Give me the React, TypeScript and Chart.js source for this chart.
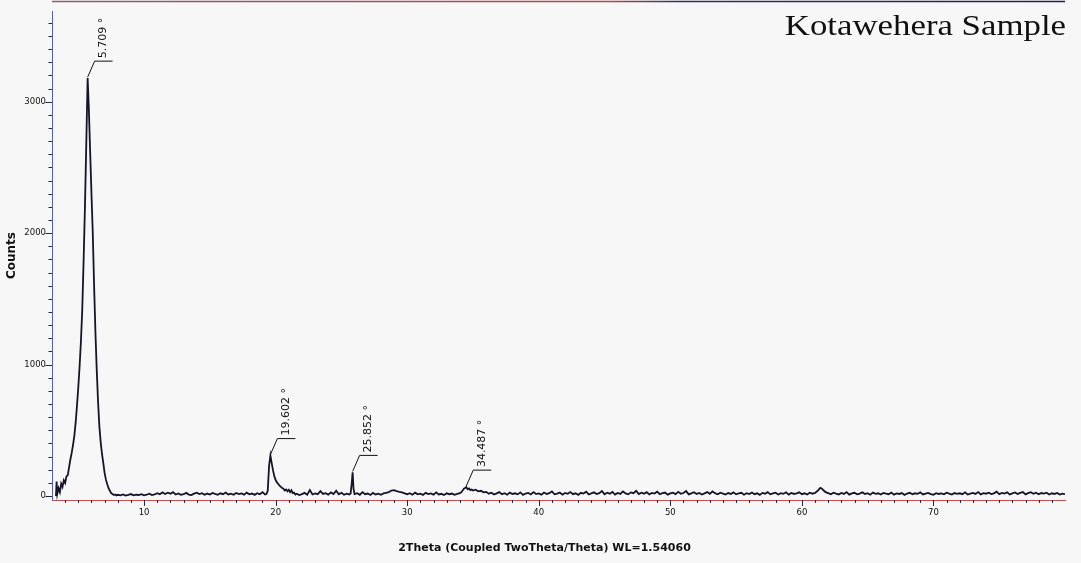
import React, { useEffect, useRef } from "react";
import { Chart, registerables } from "chart.js";

Chart.register(...registerables);

// Axis ranges (2θ in degrees, intensity in counts)
const X_MIN = 3;
const X_MAX = 80;
const Y_MIN = -30;
const Y_MAX = 3690;

const xTickValues = [10, 20, 30, 40, 50, 60, 70];
const yTickValues = [0, 1000, 2000, 3000];

const chartTitle = "Kotawehera Sample";
const xAxisTitle = "2Theta (Coupled TwoTheta/Theta) WL=1.54060";
const yAxisTitle = "Counts";

// Background sections are recorded on a 0.2° grid
const BG_STEP = 0.2;

// Strong low-angle reflection
const peak1Theta = [
  3.3, 3.35, 3.4, 3.5, 3.6, 3.7, 3.8, 3.9, 4.0, 4.1, 4.2, 4.3, 4.4, 4.5, 4.6, 4.7,
  4.8, 4.9, 5.0, 5.1, 5.2, 5.3, 5.4, 5.5, 5.6, 5.709, 5.8, 5.9, 6.0, 6.1, 6.2, 6.3,
  6.4, 6.5, 6.6, 6.7, 6.8, 6.9, 7.0, 7.1, 7.2, 7.3, 7.4, 7.5, 7.6, 7.7, 7.8, 7.9,
];
const peak1Counts = [
  0, 110, 15, 60, 30, 95, 70, 120, 100, 150, 160, 220, 280, 330, 390, 460,
  560, 690, 830, 990, 1180, 1420, 1780, 2180, 2650, 3180, 2950, 2620, 2300, 2000, 1600, 1250,
  960, 720, 530, 410, 320, 250, 175, 125, 90, 60, 40, 22, 15, 8, 12, 5,
];

const bg1Start = 8.0;
const bg1Counts = [
  10, 6, 12, 4, 9, 15, 5, 11, 8, 14,
  6, 10, 18, 7, 12, 22, 14, 28, 16, 25,
  18, 30, 12, 20, 9, 14, 24, 11, 8, 18,
  26, 15, 22, 10, 19, 12, 24, 16, 9, 21,
  14, 27, 12, 18, 10, 23, 15, 20, 11, 26,
  13, 19, 9, 22, 14, 30, 12,
];

const peak2Theta = [
  19.3, 19.4, 19.5, 19.602, 19.7, 19.8, 19.9, 20.0, 20.1, 20.2, 20.3, 20.4,
  20.5, 20.6, 20.7, 20.8, 20.9, 21.0, 21.1, 21.2, 21.3, 21.4, 21.5,
];
const peak2Counts = [
  15, 40, 230, 308, 250, 195, 150, 122, 104, 92, 80, 70,
  62, 55, 42, 50, 36, 48, 30, 44, 22, 26, 12,
];

const bg2Start = 21.6;
const bg2Counts = [
  18, 8, 15, 24, 10, 45, 12, 20, 14, 38, 16, 22, 11, 28, 15, 40, 13, 25, 10, 18, 12,
];

const peak3Theta = [25.7, 25.78, 25.852, 25.92, 26.0];
const peak3Counts = [20, 95, 180, 55, 15];

const bg3Start = 26.2;
const bg3Counts = [
  22, 10, 30, 14, 19, 8, 24, 12, 18, 10, 20, 25,
  30, 42, 45, 38, 32, 28, 20,
];

const bg4Start = 30.0;
const bg4Counts = [
  14, 22, 10, 26, 13, 18, 9, 24, 15, 20, 11, 28, 12, 17, 8, 21, 14, 19, 10, 16, 22,
];

const peak4Theta = [34.1, 34.2, 34.3, 34.4, 34.487, 34.6, 34.7, 34.8, 34.9, 35.0, 35.2, 35.4, 35.6, 35.8, 36.0];
const peak4Counts = [28, 40, 55, 62, 68, 52, 58, 45, 50, 42, 48, 36, 40, 28, 32];

const bg5Start = 36.2;
const bg5Counts = [
  18, 25, 12, 20, 30, 14, 22, 10, 26, 16,
  21, 13, 28, 9, 19, 24, 12, 30, 15, 20,
  11, 27, 16, 22, 35, 13, 18, 26, 10, 24,
  17, 30, 14, 21, 9, 25, 19, 33, 12, 20,
  28, 15, 22, 38, 14, 26, 18, 31, 11, 24,
  16, 35, 20, 13, 28, 22, 40, 15, 25, 18,
  30, 12, 24, 19, 34, 14, 22, 27, 11, 20,
  26, 15, 32, 18, 23, 38, 13, 21, 29, 16,
  24, 12, 20, 30, 17, 35, 22, 14, 26, 19,
  11, 23, 16, 28, 13, 20, 25, 10, 22, 15,
  27, 14, 21, 9, 24, 18, 30, 13, 20, 26,
  12, 22, 17, 29, 11, 24, 16, 20, 28, 14,
  21, 12, 25, 18, 24,
];

const peak5Theta = [61.2, 61.4, 61.5, 61.6, 61.8];
const peak5Counts = [40, 62, 58, 48, 30];

const bg6Start = 62.0;
const bg6Counts = [
  22, 14, 26, 18, 12, 24, 16, 30, 11, 20,
  25, 13, 19, 28, 15, 22, 10, 26, 17, 21,
  12, 24, 18, 14, 27, 11, 20, 16, 23, 9,
  19, 25, 13, 21, 17, 28, 12, 18, 24, 15,
  10, 22, 16, 20, 13, 26, 18, 11, 23, 17,
  21, 14, 28, 12, 19, 24, 16, 30, 13, 22,
  18, 26, 15, 21, 33, 14, 24, 19, 28, 12,
  20, 27, 16, 24, 30, 13, 22, 29, 17, 25,
  14, 23, 19, 26, 12, 21, 16, 24, 11, 18,
  15,
];

// Labelled reflections (2θ positions)
const peakLabelTheta = [5.709, 19.602, 25.852, 34.487];

type Pt = { x: number; y: number };

function pairs(theta: number[], counts: number[]): Pt[] {
  return theta.map((t, i) => ({ x: t, y: counts[i] }));
}

function grid(start: number, counts: number[]): Pt[] {
  return counts.map((c, i) => ({ x: Math.round((start + i * BG_STEP) * 1000) / 1000, y: c }));
}

function buildScan(): Pt[] {
  const pts = [
    ...pairs(peak1Theta, peak1Counts),
    ...grid(bg1Start, bg1Counts),
    ...pairs(peak2Theta, peak2Counts),
    ...grid(bg2Start, bg2Counts),
    ...pairs(peak3Theta, peak3Counts),
    ...grid(bg3Start, bg3Counts),
    ...grid(bg4Start, bg4Counts),
    ...pairs(peak4Theta, peak4Counts),
    ...grid(bg5Start, bg5Counts),
    ...pairs(peak5Theta, peak5Counts),
    ...grid(bg6Start, bg6Counts),
  ];
  return pts.sort((a, b) => a.x - b.x);
}

const SANS = '"DejaVu Sans", Verdana, sans-serif';

const decorPlugin = {
  id: "xrdDecor",
  afterDraw(chart: any) {
    const { ctx, chartArea, scales } = chart;
    const xs = scales.x;
    const ys = scales.y;
    const data: Pt[] = chart.data.datasets[0].data;
    ctx.save();

    // upper frame line
    const grad = ctx.createLinearGradient(chartArea.left, 0, chartArea.right, 0);
    grad.addColorStop(0, "#8a5a70");
    grad.addColorStop(0.55, "#b04848");
    grad.addColorStop(0.62, "#303060");
    grad.addColorStop(1, "#202050");
    ctx.strokeStyle = grad;
    ctx.lineWidth = 1.5;
    ctx.beginPath();
    ctx.moveTo(chartArea.left, 1.5);
    ctx.lineTo(chartArea.right, 1.5);
    ctx.stroke();

    // x tick marks: every degree, longer every ten
    ctx.strokeStyle = "#26264a";
    ctx.lineWidth = 1;
    for (let t = Math.ceil(X_MIN + 1); t < X_MAX; t++) {
      const px = Math.round(xs.getPixelForValue(t)) + 0.5;
      const len = t % 10 === 0 ? 6 : 3;
      ctx.beginPath();
      ctx.moveTo(px, chartArea.bottom);
      ctx.lineTo(px, chartArea.bottom + len);
      ctx.stroke();
    }
    // y tick marks: every 100 counts, longer every 1000
    for (let v = 0; v < Y_MAX; v += 100) {
      const py = Math.round(ys.getPixelForValue(v)) + 0.5;
      const len = v % 1000 === 0 ? 6.5 : 3.5;
      ctx.beginPath();
      ctx.moveTo(chartArea.left - len, py);
      ctx.lineTo(chartArea.left, py);
      ctx.stroke();
    }

    // reflection markers with leader lines
    ctx.strokeStyle = "#111";
    ctx.fillStyle = "#111";
    ctx.lineWidth = 1;
    ctx.font = `11px ${SANS}`;
    peakLabelTheta.forEach((theta) => {
      const pt = data.find((p) => Math.abs(p.x - theta) < 1e-6);
      if (!pt) return;
      const px = xs.getPixelForValue(pt.x);
      const py = ys.getPixelForValue(pt.y);
      const kx = px + 7;
      const ky = py - 17;
      ctx.beginPath();
      ctx.moveTo(px, py - 1);
      ctx.lineTo(kx, ky);
      ctx.lineTo(kx + 18, ky);
      ctx.stroke();
      ctx.save();
      ctx.translate(kx + 9, ky - 3);
      ctx.rotate(-Math.PI / 2);
      ctx.textAlign = "left";
      ctx.textBaseline = "middle";
      ctx.fillText(`${theta.toFixed(3)} °`, 0, 0);
      ctx.restore();
    });

    // x axis title
    ctx.font = `bold 11px ${SANS}`;
    ctx.textAlign = "center";
    ctx.textBaseline = "middle";
    ctx.fillStyle = "#111";
    ctx.fillText(xAxisTitle, chart.width / 2 + 4, 548);

    // sample name
    ctx.save();
    ctx.font = '30px "Liberation Serif", "Times New Roman", serif';
    ctx.textAlign = "right";
    ctx.textBaseline = "alphabetic";
    ctx.fillStyle = "#101010";
    ctx.translate(chartArea.right + 1, 35);
    ctx.scale(1.16, 1);
    ctx.fillText(chartTitle, 0, 0);
    ctx.restore();

    ctx.restore();
  },
};

export default function App() {
  const canvasRef = useRef<HTMLCanvasElement | null>(null);

  useEffect(() => {
    document.body.style.margin = "0";
    const canvas = canvasRef.current;
    if (!canvas) return;
    const chart = new Chart(canvas, {
      type: "line",
      data: {
        datasets: [
          {
            data: buildScan(),
            borderColor: "#15152a",
            borderWidth: 1.8,
            pointRadius: 0,
            tension: 0,
            fill: false,
          },
        ],
      },
      options: {
        responsive: false,
        animation: false,
        parsing: false,
        layout: { padding: { top: 5, right: 16, left: 0, bottom: 0 } },
        plugins: {
          legend: { display: false },
          tooltip: { enabled: false },
          title: { display: false },
        },
        scales: {
          x: {
            type: "linear",
            min: X_MIN,
            max: X_MAX,
            afterFit(s: any) {
              s.height = 63;
            },
            afterBuildTicks(s: any) {
              s.ticks = xTickValues.map((v) => ({ value: v }));
            },
            grid: { display: false, drawTicks: false },
            border: { display: true, color: "#c65050", width: 1 },
            ticks: {
              padding: 8,
              autoSkip: false,
              maxRotation: 0,
              color: "#111",
              font: { family: SANS, size: 8.5 },
              callback: (v: any) => String(v),
            },
          },
          y: {
            type: "linear",
            min: Y_MIN,
            max: Y_MAX,
            afterFit(s: any) {
              s.width = 52;
            },
            afterBuildTicks(s: any) {
              s.ticks = yTickValues.map((v) => ({ value: v }));
            },
            grid: { display: false, drawTicks: false },
            border: { display: true, color: "#5060b0", width: 1 },
            ticks: {
              padding: 6,
              color: "#111",
              font: { family: SANS, size: 8.5 },
              callback: (v: any) => String(v),
            },
            title: {
              display: true,
              text: yAxisTitle,
              color: "#111",
              font: { family: SANS, size: 12, weight: "bold" },
              padding: { top: 5, bottom: 0 },
            },
          },
        },
      },
      plugins: [decorPlugin],
    });
    return () => chart.destroy();
  }, []);

  return (
    <div style={{ width: 1081, height: 563, background: "#f7f7f8", position: "relative" }}>
      <canvas ref={canvasRef} width={1081} height={563} />
    </div>
  );
}
